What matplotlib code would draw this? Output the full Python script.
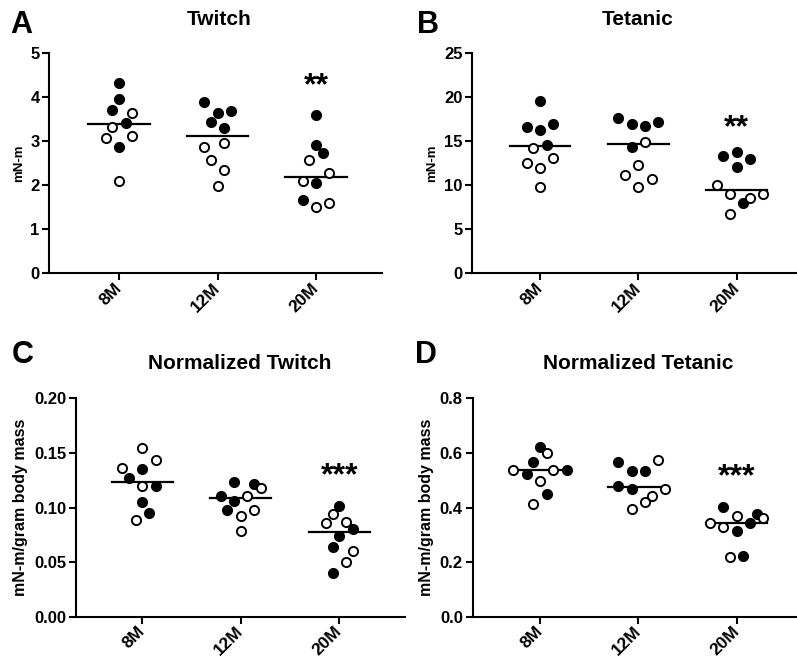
import numpy as np
import matplotlib
matplotlib.use("Agg")
import matplotlib.pyplot as plt
from matplotlib import transforms

plt.rcParams['font.family'] = ['Liberation Sans', 'DejaVu Sans']
plt.rcParams['font.weight'] = 'bold'

groups = ['8M', '12M', '20M']

# ---- A: Twitch (mN-m) ----
twitch_vals = [
    [4.32, 3.95, 3.71, 3.64, 3.42, 3.32, 3.08, 3.12, 2.86, 2.10],
    [3.90, 3.65, 3.69, 3.43, 3.30, 2.88, 2.95, 2.58, 2.35, 1.99],
    [3.59, 2.91, 2.73, 2.57, 2.28, 2.10, 2.06, 1.67, 1.51, 1.59],
]
twitch_filled = [
    [1, 1, 1, 0, 1, 0, 0, 0, 1, 0],
    [1, 1, 1, 1, 1, 0, 0, 0, 0, 0],
    [1, 1, 1, 0, 0, 0, 1, 1, 0, 0],
]
twitch_mean = [3.39, 3.13, 2.19]

# ---- B: Tetanic (mN-m) ----
tetanic_vals = [
    [19.62, 16.67, 16.29, 16.97, 14.58, 14.20, 12.50, 12.00, 13.07, 9.77],
    [17.61, 16.97, 16.78, 17.16, 14.39, 14.96, 12.31, 11.17, 10.72, 9.85],
    [13.37, 13.75, 12.99, 12.12, 10.04, 9.02, 7.95, 8.60, 9.02, 6.70],
]
tetanic_filled = [
    [1, 1, 1, 1, 1, 0, 0, 0, 0, 0],
    [1, 1, 1, 1, 1, 0, 0, 0, 0, 0],
    [1, 1, 1, 1, 0, 0, 1, 0, 0, 0],
]
tetanic_mean = [14.47, 14.66, 9.47]

# ---- C: Normalized Twitch ----
ntwitch_vals = [
    [0.1542, 0.1435, 0.1365, 0.1353, 0.1270, 0.1194, 0.1194, 0.1053, 0.0953, 0.0885],
    [0.1234, 0.1215, 0.1182, 0.1108, 0.1108, 0.1063, 0.0977, 0.0977, 0.0925, 0.0788],
    [0.1017, 0.0944, 0.0855, 0.0870, 0.0800, 0.0742, 0.0635, 0.0605, 0.0498, 0.0403],
]
ntwitch_filled = [
    [0, 0, 0, 1, 1, 0, 1, 1, 1, 0],
    [1, 1, 0, 1, 0, 1, 1, 0, 0, 0],
    [1, 0, 0, 0, 1, 1, 1, 0, 0, 1],
]
ntwitch_mean = [0.1237, 0.1090, 0.0776]

# ---- D: Normalized Tetanic ----
ntetanic_vals = [
    [0.620, 0.601, 0.568, 0.537, 0.537, 0.537, 0.523, 0.498, 0.448, 0.413],
    [0.568, 0.574, 0.534, 0.535, 0.479, 0.467, 0.467, 0.443, 0.419, 0.393],
    [0.401, 0.369, 0.375, 0.363, 0.344, 0.344, 0.327, 0.315, 0.220, 0.222],
]
ntetanic_filled = [
    [1, 0, 1, 0, 0, 1, 1, 0, 1, 0],
    [1, 0, 1, 1, 1, 1, 0, 0, 0, 0],
    [1, 0, 1, 0, 0, 1, 0, 1, 0, 1],
]
ntetanic_mean = [0.537, 0.474, 0.344]

# horizontal scatter slots (GraphPad-style column layout)
twitch_slots = [[0, 0, -1, 2, 1, -1, -2, 2, 0, 0],
                [-2, 0, 2, -1, 1, -2, 1, -1, 1, 0],
                [0, 0, 1, -1, 2, -2, 0, -2, 0, 2]]
tetanic_slots = [[0, -2, 0, 2, 1, -1, -2, 0, 2, 0],
                 [-3, -1, 1, 3, -1, 1, 0, -2, 2, 0],
                 [-2, 0, 2, 0, -3, -1, 1, 2, 4, -1]]
ntwitch_slots = [[0, 2, -3, 0, -2, 0, 2, 0, 1, -1],
                 [-1, 2, 3, -3, 1, -1, -2, 2, 0, 0],
                 [0, -1, -2, 1, 2, 0, -1, 2, 1, -1]]
ntetanic_slots = [[0, 1, -1, -4, 2, 4, -2, 0, 1, -1],
                  [-3, 3, -1, 1, -3, -1, 4, 2, 1, -1],
                  [-2, 0, 3, 4, -4, 2, -2, 0, -1, 1]]

stars = ['**', '**', '***', '***']
star_y = [4.42, 17.35, 0.135, 0.537]

W, H = 797, 665
fig = plt.figure(figsize=(W / 100, H / 100), dpi=100)


def add_panel(left, right, y0, ytop, x0, step):
    ax = fig.add_axes([left / W, 1 - y0 / H, (right - left) / W, (y0 - ytop) / H])
    ax.set_xlim((left - x0) / step, (right - x0) / step)
    return ax


def draw(ax, vals, filled, slots, means, ylim, yticks, yfmt, ylabel, ylsize, star, sy):
    slot_w = 0.0677
    for i in range(3):
        for v, f, s in zip(vals[i], filled[i], slots[i]):
            ax.plot(i + s * slot_w, v, 'o', ms=6.6, mew=1.4, mec='black',
                    mfc='black' if f else 'white', zorder=3, clip_on=False)
        ax.plot([i - 0.31, i + 0.31], [means[i], means[i]], color='black', lw=1.6, zorder=2)
    ax.set_ylim(*ylim)
    ax.set_yticks(yticks)
    ax.set_yticklabels([yfmt.format(t) for t in yticks], fontsize=12, fontweight='bold')
    ax.set_xticks(range(3))
    ax.set_xticklabels(groups, rotation=45, ha='right', va='center',
                       rotation_mode='anchor', fontsize=12.5, fontweight='bold')
    shift = transforms.ScaledTranslation(6 / 100, 0, fig.dpi_scale_trans)
    for lab in ax.get_xticklabels():
        lab.set_transform(lab.get_transform() + shift)
    ax.set_ylabel(ylabel, fontsize=ylsize, fontweight='bold', labelpad=4)
    for sp in ['top', 'right']:
        ax.spines[sp].set_visible(False)
    for sp in ['left', 'bottom']:
        ax.spines[sp].set_linewidth(1.5)
    ax.tick_params(direction='out', length=5, width=1.5, pad=2)
    ax.tick_params(axis='x', pad=4)
    off = transforms.offset_copy(ax.transData, fig=fig, y=-11, units='points')
    ax.text(2, sy, star, ha='center', va='baseline', fontsize=23,
            fontweight='bold', transform=off)


axA = add_panel(49.3, 382, 273.3, 53.3, 119, 98.5)
draw(axA, twitch_vals, twitch_filled, twitch_slots, twitch_mean, (0, 5),
     [0, 1, 2, 3, 4, 5], '{:g}', 'mN-m', 9.5, stars[0], star_y[0])

axB = add_panel(472.3, 797, 273.3, 53.3, 540, 98.3)
draw(axB, tetanic_vals, tetanic_filled, tetanic_slots, tetanic_mean, (0, 25),
     [0, 5, 10, 15, 20, 25], '{:g}', 'mN-m', 9.5, stars[1], star_y[1])

axC = add_panel(76, 405, 616.7, 398.3, 142.3, 98.5)
draw(axC, ntwitch_vals, ntwitch_filled, ntwitch_slots, ntwitch_mean, (0, 0.2),
     [0, 0.05, 0.10, 0.15, 0.20], '{:.2f}', 'mN-m/gram body mass', 11.5, stars[2], star_y[2])

axD = add_panel(472.5, 797, 616.7, 398.3, 540, 98.3)
draw(axD, ntetanic_vals, ntetanic_filled, ntetanic_slots, ntetanic_mean, (0, 0.8),
     [0, 0.2, 0.4, 0.6, 0.8], '{:.1f}', 'mN-m/gram body mass', 11.5, stars[3], star_y[3])

# panel letters and titles (pixel positions)
for letter, lx, ly in [('A', 10, 33), ('B', 417, 33), ('C', 12, 363), ('D', 415, 363)]:
    fig.text(lx / W, 1 - ly / H, letter, fontsize=22, fontweight='bold', va='baseline')
for title, tx, ty in [('Twitch', 219, 25), ('Tetanic', 638, 25),
                      ('Normalized Twitch', 240, 369), ('Normalized Tetanic', 638, 369)]:
    fig.text(tx / W, 1 - ty / H, title, fontsize=15, fontweight='bold',
             ha='center', va='baseline')

fig.savefig('out.png', dpi=100)
